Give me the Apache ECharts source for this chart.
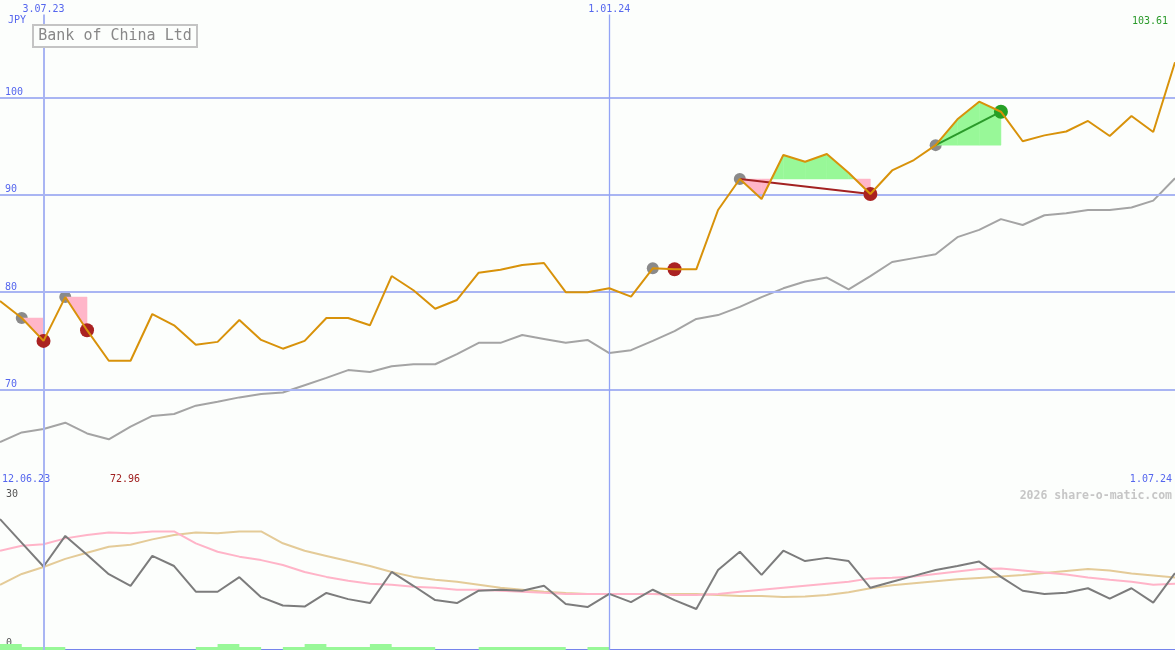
<!DOCTYPE html>
<html><head><meta charset="utf-8">
<script src="https://cdn.jsdelivr.net/npm/echarts@6/dist/echarts.min.js"></script>
<style>html,body{margin:0;padding:0;background:#fcfefc}#c{width:1175px;height:650px}</style>
</head><body><div id="c"></div>
<script>
const dates = ['19.06.23','26.06.23','3.07.23','10.07.23','17.07.23','24.07.23','31.07.23','7.08.23','14.08.23','21.08.23','28.08.23','4.09.23','11.09.23','18.09.23','25.09.23','2.10.23','9.10.23','16.10.23','23.10.23','30.10.23','6.11.23','13.11.23','20.11.23','27.11.23','4.12.23','11.12.23','18.12.23','25.12.23','1.01.24','8.01.24','15.01.24','22.01.24','29.01.24','5.02.24','12.02.24','19.02.24','26.02.24','4.03.24','11.03.24','18.03.24','25.03.24','1.04.24','8.04.24','15.04.24','22.04.24','29.04.24','6.05.24','13.05.24','20.05.24','27.05.24','3.06.24','10.06.24','17.06.24','24.06.24','1.07.24'];
const price = [79.1,77.35,75.0,79.5,76.1,72.96,72.96,77.76,76.6,74.6,74.9,77.15,75.1,74.2,75.0,77.35,77.35,76.6,81.66,80.2,78.3,79.2,82.0,82.3,82.8,83.0,80.0,80.0,80.4,79.54,82.45,82.35,82.35,88.44,91.62,89.57,94.09,93.4,94.19,92.27,90.08,92.5,93.57,95.1,97.75,99.56,98.53,95.5,96.1,96.5,97.58,96.04,98.09,96.45,103.61];
const benchmark = [64.6,65.6,65.95,66.6,65.5,64.9,66.2,67.3,67.5,68.35,68.75,69.2,69.55,69.7,70.45,71.2,72.0,71.8,72.4,72.6,72.6,73.65,74.8,74.8,75.6,75.2,74.8,75.1,73.75,74.05,75.0,76.0,77.25,77.65,78.5,79.5,80.4,81.1,81.5,80.3,81.65,83.1,83.5,83.9,85.65,86.4,87.5,86.9,87.9,88.1,88.45,88.45,88.7,89.4,91.7];
const osc = [26.5,21.7,16.9,23.1,19.3,15.35,13.0,19.05,17.0,11.8,11.8,14.75,10.7,9.0,8.8,11.55,10.3,9.5,15.8,13.0,10.1,9.5,12.0,12.2,12.0,13.0,9.3,8.7,11.35,9.7,12.2,10.1,8.3,16.2,19.9,15.2,20.1,18.0,18.65,18.0,12.6,13.8,15.0,16.2,17.0,17.9,14.8,12.0,11.35,11.6,12.5,10.4,12.5,9.6,15.55];
const oscFast = [20.1,21.1,21.4,22.6,23.3,23.8,23.65,24.0,24.0,21.6,19.9,18.9,18.2,17.2,15.8,14.8,14.0,13.4,13.2,12.8,12.6,12.2,12.2,12.0,11.8,11.6,11.35,11.35,11.35,11.35,11.35,11.15,11.15,11.35,11.8,12.2,12.6,13.0,13.4,13.8,14.5,14.65,14.9,15.4,15.9,16.4,16.5,16.1,15.7,15.3,14.7,14.2,13.8,13.2,13.4];
const oscSlow = [13.2,15.4,16.8,18.45,19.7,20.9,21.3,22.4,23.3,23.8,23.65,24.0,24.0,21.6,20.1,19.05,18.0,17.0,15.8,14.8,14.2,13.8,13.2,12.6,12.2,11.8,11.55,11.35,11.35,11.35,11.35,11.35,11.35,11.15,10.95,10.95,10.75,10.85,11.15,11.7,12.5,13.1,13.5,13.9,14.3,14.6,14.9,15.2,15.6,16.0,16.4,16.1,15.5,15.1,14.7];
const signalBars = [2,1,1,0,0,0,0,0,0,1,2,1,0,1,2,1,1,2,1,1,0,0,1,1,1,1,0,1,0,0,0,0,0,0,0,0,0,0,0,0,0,0,0,0,0,0,0,0,0,0,0,0,0,0,0];
const trades = [[1,2],[3,4],[30,31],[34,40],[43,46]];
const mainTicks = [70,80,90,100];
const lowTicks = [0,30];
const markerDates = ['3.07.23','1.01.24'];
const rangeStart = '12.06.23';
const rangeEnd = '1.07.24';

const BLUE = '#5566ee', MONO = 'DejaVu Sans Mono, monospace';
const PINK = '#ffb6c9', GREEN = '#98f898';
const VLINE = ['#a9b5f3', '#93a4f6'];
const VW = [2, 1.3];
const chart = echarts.init(document.getElementById('c'));
const lastVal = price[price.length-1];
const minVal = Math.min.apply(null, price);

chart.setOption({
  animation: false,
  backgroundColor: '#fcfefc',
  grid: [
    {left: 0, right: 0, top: 0, height: 487},
    {left: 0, right: 0, top: 487, height: 163}
  ],
  xAxis: [
    {type: 'category', data: dates, boundaryGap: false, gridIndex: 0, position: 'top',
     axisLine: {show: false}, axisTick: {show: false}, splitLine: {show: false},
     axisLabel: {inside: true, margin: 4, fontSize: 10, fontFamily: MONO, color: BLUE,
       interval: (i) => markerDates.indexOf(dates[i]) >= 0}},
    {type: 'category', data: dates, boundaryGap: false, gridIndex: 1, position: 'top',
     axisLine: {show: true, lineStyle: {color: '#7584ec', width: 2}}, axisTick: {show: false},
     axisLabel: {show: false}, splitLine: {show: false}}
  ],
  yAxis: [
    {type: 'value', gridIndex: 0, min: 60, max: 110, interval: 10,
     axisLine: {show: false}, axisTick: {show: false}, splitLine: {show: false},
     axisLabel: {inside: true, margin: 5, fontSize: 10, fontFamily: MONO, color: BLUE, verticalAlign: 'bottom',
       formatter: (v) => mainTicks.indexOf(v) >= 0 ? String(v) : ''}},
    {type: 'value', gridIndex: 1, min: 0, max: 33, interval: 30,
     axisLine: {show: false}, axisTick: {show: false}, splitLine: {show: false},
     axisLabel: {inside: true, margin: 6, fontSize: 10, fontFamily: MONO, color: '#555', verticalAlign: 'bottom',
       padding: [0, 0, 2, 0],
       formatter: (v) => lowTicks.indexOf(v) >= 0 ? String(v) : '', showMaxLabel: false}},
    {type: 'value', gridIndex: 1, min: 0, max: 54.33, show: false}
  ],
  series: [
    {type: 'line', name: 'benchmark', data: benchmark, xAxisIndex: 0, yAxisIndex: 0, z: 1,
     symbol: 'none', lineStyle: {color: '#a4a4a4', width: 2},
     markLine: {silent: true, symbol: 'none', label: {show: false},
       data: mainTicks.map(v => ({yAxis: v, lineStyle: {color: '#a9b5f3', width: 2, type: 'solid'}})).concat(
         markerDates.map((d, k) => [{coord: [d, 108.5], lineStyle: {color: VLINE[k], width: VW[k], type: 'solid'}}, {coord: [d, 60]}]))}},
    {type: 'scatter', name: 'entries', xAxisIndex: 0, yAxisIndex: 0, z: 2,
     data: trades.map(t => [t[0], price[t[0]]]), symbolSize: 12, itemStyle: {color: '#8a8a8a', opacity: 1}},
    {type: 'custom', name: 'fills', xAxisIndex: 0, yAxisIndex: 0, z: 3,
     data: trades.map(t => [t[0], price[t[0]]]),
     renderItem: function (params, api) {
       const t = trades[params.dataIndex];
       const s = t[0], e = t[1], L = price[s];
       const children = [];
       for (let j = s; j < e; j++) {
         const a = price[j], b = price[j + 1];
         const pA = api.coord([j, a]), pB = api.coord([j + 1, b]);
         const lA = api.coord([j, L]);
         const segs = [];
         if ((a - L) * (b - L) < 0) {
           const f = (L - a) / (b - a);
           const xm = pA[0] + f * (pB[0] - pA[0]);
           segs.push([pA[0], pA[1], xm, lA[1], a > L]);
           segs.push([xm, lA[1], pB[0], pB[1], b > L]);
         } else {
           segs.push([pA[0], pA[1], pB[0], pB[1], (a + b) / 2 >= L]);
         }
         segs.forEach(sg => {
           children.push({type: 'polygon', shape: {points: [[sg[0], lA[1]], [sg[0], sg[1]], [sg[2], sg[3]], [sg[2], lA[1]]]},
             style: {fill: sg[4] ? GREEN : PINK, stroke: sg[4] ? GREEN : PINK, lineWidth: 0.5}});
         });
       }
       return {type: 'group', children: children};
     }},
    {type: 'custom', name: 'tradeLines', xAxisIndex: 0, yAxisIndex: 0, z: 4,
     data: trades.map(t => [t[0], price[t[0]]]),
     renderItem: function (params, api) {
       const t = trades[params.dataIndex];
       if (t[1] - t[0] < 2) return {type: 'group', children: []};
       const p1 = api.coord([t[0], price[t[0]]]), p2 = api.coord([t[1], price[t[1]]]);
       const win = price[t[1]] >= price[t[0]];
       return {type: 'line', shape: {x1: p1[0], y1: p1[1], x2: p2[0], y2: p2[1]},
         style: {stroke: win ? '#2a9a2a' : '#a32222', lineWidth: 2}};
     }},
    {type: 'scatter', name: 'exits', xAxisIndex: 0, yAxisIndex: 0, z: 5, symbolSize: 14,
     data: trades.map(t => ({value: [t[1], price[t[1]]], itemStyle: {opacity: 1, color: price[t[1]] >= price[t[0]] ? '#25a025' : '#aa2222'}}))},
    {type: 'line', name: 'price', data: price, xAxisIndex: 0, yAxisIndex: 0, z: 6,
     symbol: 'none', lineStyle: {color: '#d8920a', width: 2}},
    {type: 'line', name: 'bars', data: signalBars, xAxisIndex: 1, yAxisIndex: 2, z: 1, step: 'end',
     symbol: 'none', lineStyle: {width: 0}, areaStyle: {color: GREEN, opacity: 1}},
    {type: 'line', name: 'oscSlow', data: oscSlow, xAxisIndex: 1, yAxisIndex: 1, z: 2,
     symbol: 'none', lineStyle: {color: '#e4cb98', width: 2},
     markLine: {silent: true, symbol: 'none', label: {show: false},
       data: markerDates.map((d, k) => ({xAxis: d, lineStyle: {color: VLINE[k], width: VW[k], type: 'solid'}}))}},
    {type: 'line', name: 'oscFast', data: oscFast, xAxisIndex: 1, yAxisIndex: 1, z: 3,
     symbol: 'none', lineStyle: {color: '#ffb4c8', width: 2}},
    {type: 'line', name: 'osc', data: osc, xAxisIndex: 1, yAxisIndex: 1, z: 4,
     symbol: 'none', lineStyle: {color: '#7c7c7c', width: 2}}
  ],
  graphic: [
    {type: 'text', left: 8, top: 15, style: {text: 'JPY', fontSize: 10, fontFamily: MONO, fill: BLUE}},
    {type: 'rect', shape: {x: 33, y: 25, width: 164, height: 22}, style: {fill: '#fcfefc', stroke: '#c4c4c4', lineWidth: 2}, z: 10},
    {type: 'text', x: 115, y: 36, z: 11, style: {text: 'Bank of China Ltd', fontSize: 15, fontFamily: MONO, fill: '#888', align: 'center', verticalAlign: 'middle'}},
    {type: 'text', x: 1168, y: 21, style: {text: lastVal.toFixed(2), fontSize: 10, fontFamily: MONO, fill: '#2a9a2a', align: 'right', verticalAlign: 'middle'}},
    {type: 'text', x: 2, y: 479, style: {text: rangeStart, fontSize: 10, fontFamily: MONO, fill: BLUE, align: 'left', verticalAlign: 'middle'}},
    {type: 'text', x: 110, y: 479, style: {text: minVal.toFixed(2), fontSize: 10, fontFamily: MONO, fill: '#a02020', align: 'left', verticalAlign: 'middle'}},
    {type: 'text', x: 1172, y: 479, style: {text: rangeEnd, fontSize: 10, fontFamily: MONO, fill: BLUE, align: 'right', verticalAlign: 'middle'}},
    {type: 'text', x: 1172, y: 496, style: {text: '2026 share-o-matic.com', fontSize: 11.5, fontWeight: 'bold', fontFamily: MONO, fill: '#c6c6c6', align: 'right', verticalAlign: 'middle'}}
  ]
});
</script></body></html>
